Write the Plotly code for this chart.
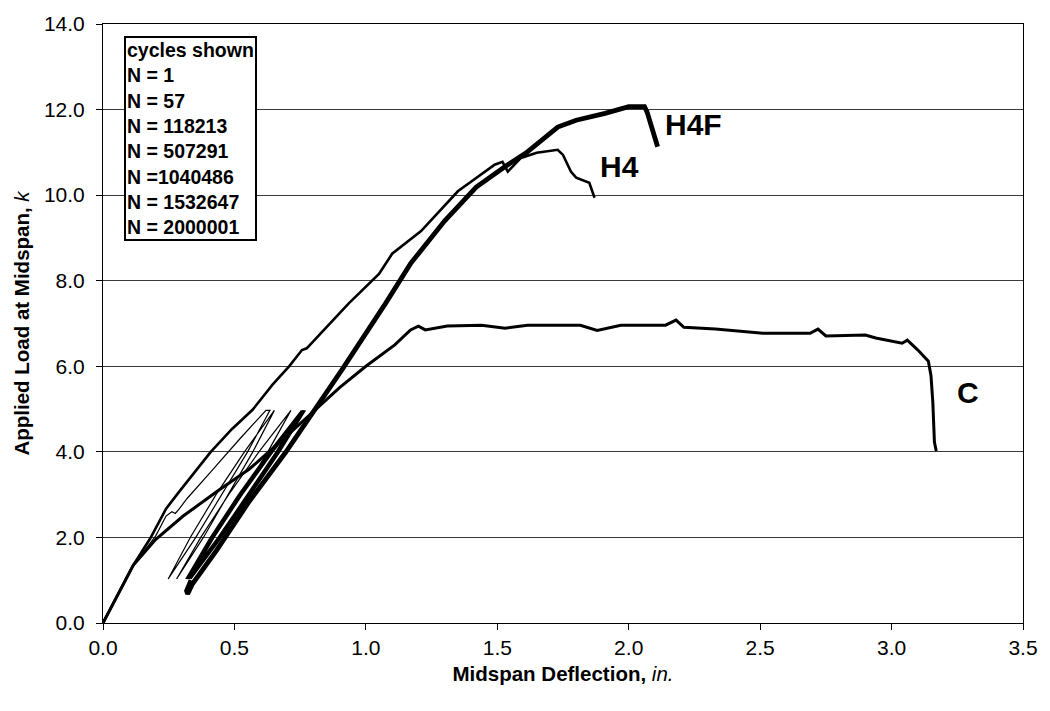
import plotly.graph_objects as go

# ---- data ----
# Control specimen C (monotonic)
c_x = [0.0, 0.06, 0.115, 0.2, 0.305, 0.444, 0.557, 0.695, 0.81, 0.9, 1.0, 1.11, 1.17, 1.2, 1.226,
       1.31, 1.44, 1.53, 1.615, 1.816, 1.88, 1.97, 2.14, 2.18, 2.21, 2.33, 2.51, 2.69, 2.72, 2.75,
       2.9, 2.94, 3.04, 3.06, 3.1, 3.14, 3.15, 3.157, 3.163, 3.17]
c_y = [0.0, 0.7, 1.35, 1.95, 2.5, 3.12, 3.6, 4.35, 4.99, 5.5, 6.0, 6.5, 6.85, 6.94, 6.85,
       6.94, 6.96, 6.89, 6.96, 6.96, 6.84, 6.96, 6.96, 7.08, 6.91, 6.87, 6.77, 6.77, 6.87, 6.71,
       6.73, 6.66, 6.54, 6.61, 6.38, 6.12, 5.78, 5.15, 4.23, 4.02]

# Specimen H4 (monotonic)
h4_x = [0.0, 0.06, 0.115, 0.18, 0.24, 0.29, 0.41, 0.49, 0.57, 0.645, 0.708, 0.757, 0.775, 0.935,
        1.01, 1.05, 1.1, 1.21, 1.35, 1.44, 1.49, 1.52, 1.54, 1.59, 1.65, 1.73, 1.75, 1.78, 1.8,
        1.85, 1.87]
h4_y = [0.0, 0.7, 1.35, 1.98, 2.67, 3.07, 4.0, 4.53, 4.99, 5.57, 6.0, 6.38, 6.42, 7.47,
        7.93, 8.16, 8.63, 9.16, 10.09, 10.48, 10.71, 10.78, 10.55, 10.87, 10.99, 11.06, 10.94,
        10.55, 10.41, 10.29, 9.94]

# Fatigue cycles shown (N = 1 ... 2000001), one continuous thin path
cyc_x = [0.0, 0.06, 0.115, 0.2, 0.24, 0.262, 0.275, 0.29, 0.32, 0.41, 0.52, 0.62, 0.635,   # N=1 load
         0.55, 0.451, 0.353, 0.248,                 # unload
         0.332, 0.43, 0.538, 0.652,                 # N=57
         0.57, 0.476, 0.382, 0.28,
         0.372, 0.478, 0.593, 0.715,                # N=118213
         0.627, 0.525, 0.423, 0.315,
         0.408, 0.515, 0.632, 0.755,                # N=507291
         0.658, 0.548, 0.437, 0.32,
         0.413, 0.52, 0.637, 0.76,                  # N=1040486
         0.663, 0.553, 0.442, 0.325,
         0.418, 0.525, 0.642, 0.765,                # N=1532647
         0.668, 0.558, 0.447, 0.33,
         0.423, 0.53, 0.647, 0.77,                  # N=2000001
         0.673, 0.563, 0.452, 0.335]
cyc_y = [0.0, 0.7, 1.35, 2.03, 2.5, 2.6, 2.56, 2.67, 2.91, 3.53, 4.3, 4.97, 4.97,
         4.0, 3.0, 2.0, 1.03,
         2.0, 3.0, 4.0, 4.97,
         4.0, 3.0, 2.0, 1.03,
         2.0, 3.0, 4.0, 4.97,
         4.0, 3.0, 2.0, 1.03,
         2.0, 3.0, 4.0, 4.97,
         4.0, 3.0, 2.0, 1.03,
         2.0, 3.0, 4.0, 4.97,
         4.0, 3.0, 2.0, 1.03,
         2.0, 3.0, 4.0, 4.97,
         4.0, 3.0, 2.0, 1.03,
         2.0, 3.0, 4.0, 4.97,
         4.0, 3.0, 2.0, 1.03]

# Specimen H4F (load to failure after 2,000,001 cycles)
h4f_x = [0.335, 0.318, 0.322, 0.34, 0.43, 0.556, 0.695, 0.8, 0.91, 1.075, 1.17, 1.3, 1.42,
         1.53, 1.61, 1.73, 1.8, 1.91, 2.0, 2.06, 2.07, 2.11]
h4f_y = [1.0, 0.75, 0.68, 0.91, 1.68, 2.84, 3.99, 4.93, 5.93, 7.47, 8.4, 9.4, 10.19,
         10.67, 10.99, 11.59, 11.75, 11.91, 12.07, 12.07, 11.94, 11.13]

cycle_labels = ["cycles shown", "N = 1", "N = 57", "N = 118213", "N = 507291",
                "N =1040486", "N = 1532647", "N = 2000001"]
curve_labels = ["H4F", "H4", "C"]
label_x = [2.13, 1.885, 3.24]
label_y = [11.65, 10.68, 5.38]

x_ticks = [0.0, 0.5, 1.0, 1.5, 2.0, 2.5, 3.0, 3.5]
y_ticks = [0.0, 2.0, 4.0, 6.0, 8.0, 10.0, 12.0, 14.0]

FONT = "Liberation Sans, Arial, sans-serif"

fig = go.Figure()
fig.add_trace(go.Scatter(x=cyc_x, y=cyc_y, mode="lines", line=dict(color="black", width=1.2),
                         name="cycles", showlegend=False))
fig.add_trace(go.Scatter(x=c_x, y=c_y, mode="lines", line=dict(color="black", width=3),
                         name="C", showlegend=False))
fig.add_trace(go.Scatter(x=h4_x, y=h4_y, mode="lines", line=dict(color="black", width=2.6),
                         name="H4", showlegend=False))
fig.add_trace(go.Scatter(x=h4f_x, y=h4f_y, mode="lines", line=dict(color="black", width=4.8),
                         name="H4F", showlegend=False))

for t, x, y in zip(curve_labels, label_x, label_y):
    fig.add_annotation(x=x, y=y, xref="x", yref="y", text="<b>" + t + "</b>", showarrow=False,
                       xanchor="left", yanchor="middle",
                       font=dict(family=FONT, size=30, color="black"))

fig.add_annotation(x=0.0227, y=0.98, xref="paper", yref="paper",
                   text="<b>" + "<br>".join(cycle_labels) + "</b>", showarrow=False,
                   xanchor="left", yanchor="top", align="left",
                   bordercolor="black", borderwidth=2, borderpad=1, bgcolor="white",
                   font=dict(family=FONT, size=19.5, color="black"))

fig.update_xaxes(range=[0, 3.5], tickvals=x_ticks, tickformat=".1f", ticks="outside", ticklen=6,
                 tickcolor="black", showline=True, linecolor="black", linewidth=1, mirror=True,
                 showgrid=False, zeroline=False,
                 tickfont=dict(family=FONT, size=21, color="black"),
                 title=dict(text="<b>Midspan Deflection, </b><i>in.</i>", standoff=8,
                            font=dict(family=FONT, size=20.5, color="black")))
fig.update_yaxes(range=[0, 14], tickvals=y_ticks, tickformat=".1f", ticks="outside", ticklen=6,
                 tickcolor="black", showline=True, linecolor="black", linewidth=1, mirror=True,
                 showgrid=True, gridcolor="#3a3a3a", gridwidth=1, zeroline=False,
                 ticklabelstandoff=7,
                 tickfont=dict(family=FONT, size=21, color="black"),
                 title=dict(text="<b>Applied Load at Midspan, </b><i>k</i>", standoff=8,
                            font=dict(family=FONT, size=20.5, color="black")))

fig.update_layout(width=1050, height=711, margin=dict(l=103, r=21, t=18, b=88),
                  plot_bgcolor="white", paper_bgcolor="white", showlegend=False)

fig.write_html("out.html")
